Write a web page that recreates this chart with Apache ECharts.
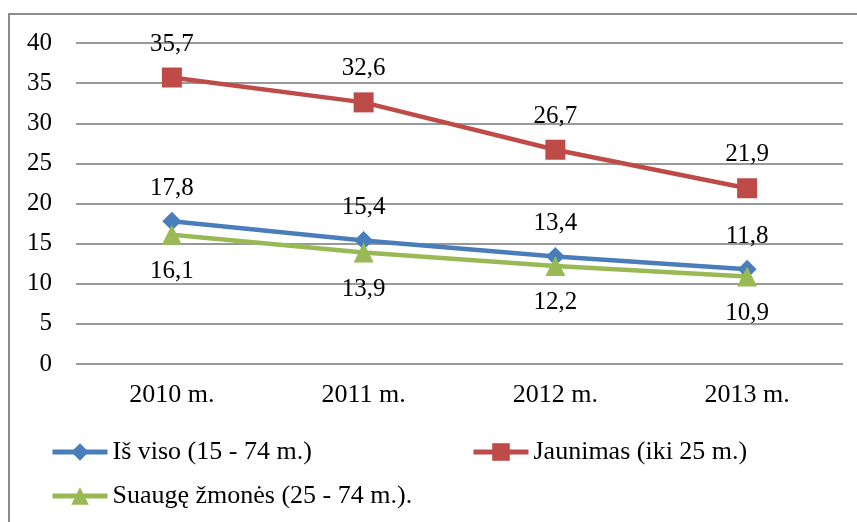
<!DOCTYPE html>
<html>
<head>
<meta charset="utf-8">
<script src="https://cdn.jsdelivr.net/npm/echarts@6/dist/echarts.min.js"></script>
<style>
  html, body { margin: 0; padding: 0; background: #fff; }
  #chart { width: 857px; height: 522px; }
</style>
</head>
<body>
<div id="chart"></div>
<script>
var categories = ['2010 m.', '2011 m.', '2012 m.', '2013 m.'];
var isVisoValues = [17.8, 15.4, 13.4, 11.8];
var jaunimasValues = [35.7, 32.6, 26.7, 21.9];
var suaugeValues = [16.1, 13.9, 12.2, 10.9];
var seriesNames = ['Iš viso (15 - 74 m.)', 'Jaunimas (iki 25 m.)', 'Suaugę žmonės (25 - 74 m.).'];

var FONT = '"Liberation Serif", "Times New Roman", serif';

function commaFmt(p) {
    return String(p.value).replace('.', ',');
}

function makeSeries(name, values, color, symbol, size, labelPos, dist) {
    return {
        name: name,
        type: 'line',
        data: values,
        symbol: symbol,
        symbolSize: size,
        showAllSymbol: true,
        lineStyle: { color: color, width: 4.5 },
        itemStyle: { color: color },
        label: {
            show: true,
            position: labelPos,
            distance: dist,
            color: '#000',
            fontFamily: FONT,
            fontSize: 25,
            formatter: commaFmt
        },
        emphasis: { disabled: true },
        animation: false
    };
}

function makeLegend(name, left, top) {
    return {
        data: [name],
        left: left,
        top: top,
        padding: 0,
        itemWidth: 55,
        itemHeight: 22,
        itemGap: 5,
        lineStyle: { width: 5 },
        textStyle: { color: '#000', fontFamily: FONT, fontSize: 26 },
        selectedMode: false
    };
}

var chart = echarts.init(document.getElementById('chart'));
chart.setOption({
    backgroundColor: '#fff',
    animation: false,
    graphic: [{
        type: 'rect',
        shape: { x: 9, y: 14, width: 1000, height: 1000 },
        style: { fill: 'none', stroke: '#8c8c8c', lineWidth: 2 },
        silent: true
    }],
    grid: { left: 76, right: 14, top: 43, bottom: 158 },
    legend: [
        makeLegend(seriesNames[0], 50, 439),
        makeLegend(seriesNames[1], 471, 439),
        makeLegend(seriesNames[2], 50, 483)
    ],
    xAxis: {
        type: 'category',
        data: categories,
        axisLine: { show: false },
        axisTick: { show: false },
        axisLabel: { color: '#000', fontFamily: FONT, fontSize: 26, margin: 18 }
    },
    yAxis: {
        type: 'value',
        min: 0,
        max: 40,
        interval: 5,
        axisLine: { show: false },
        axisTick: { show: false },
        axisLabel: { color: '#000', fontFamily: FONT, fontSize: 25, margin: 24 },
        splitLine: { lineStyle: { color: '#999', width: 2 } }
    },
    series: [
        makeSeries(seriesNames[0], isVisoValues, '#4A7EBB', 'diamond', 19, 'top', 11),
        makeSeries(seriesNames[1], jaunimasValues, '#BE4B48', 'rect', 20, 'top', 11),
        makeSeries(seriesNames[2], suaugeValues, '#98B954', 'triangle', 20, 'bottom', 14)
    ]
});
</script>
</body>
</html>
